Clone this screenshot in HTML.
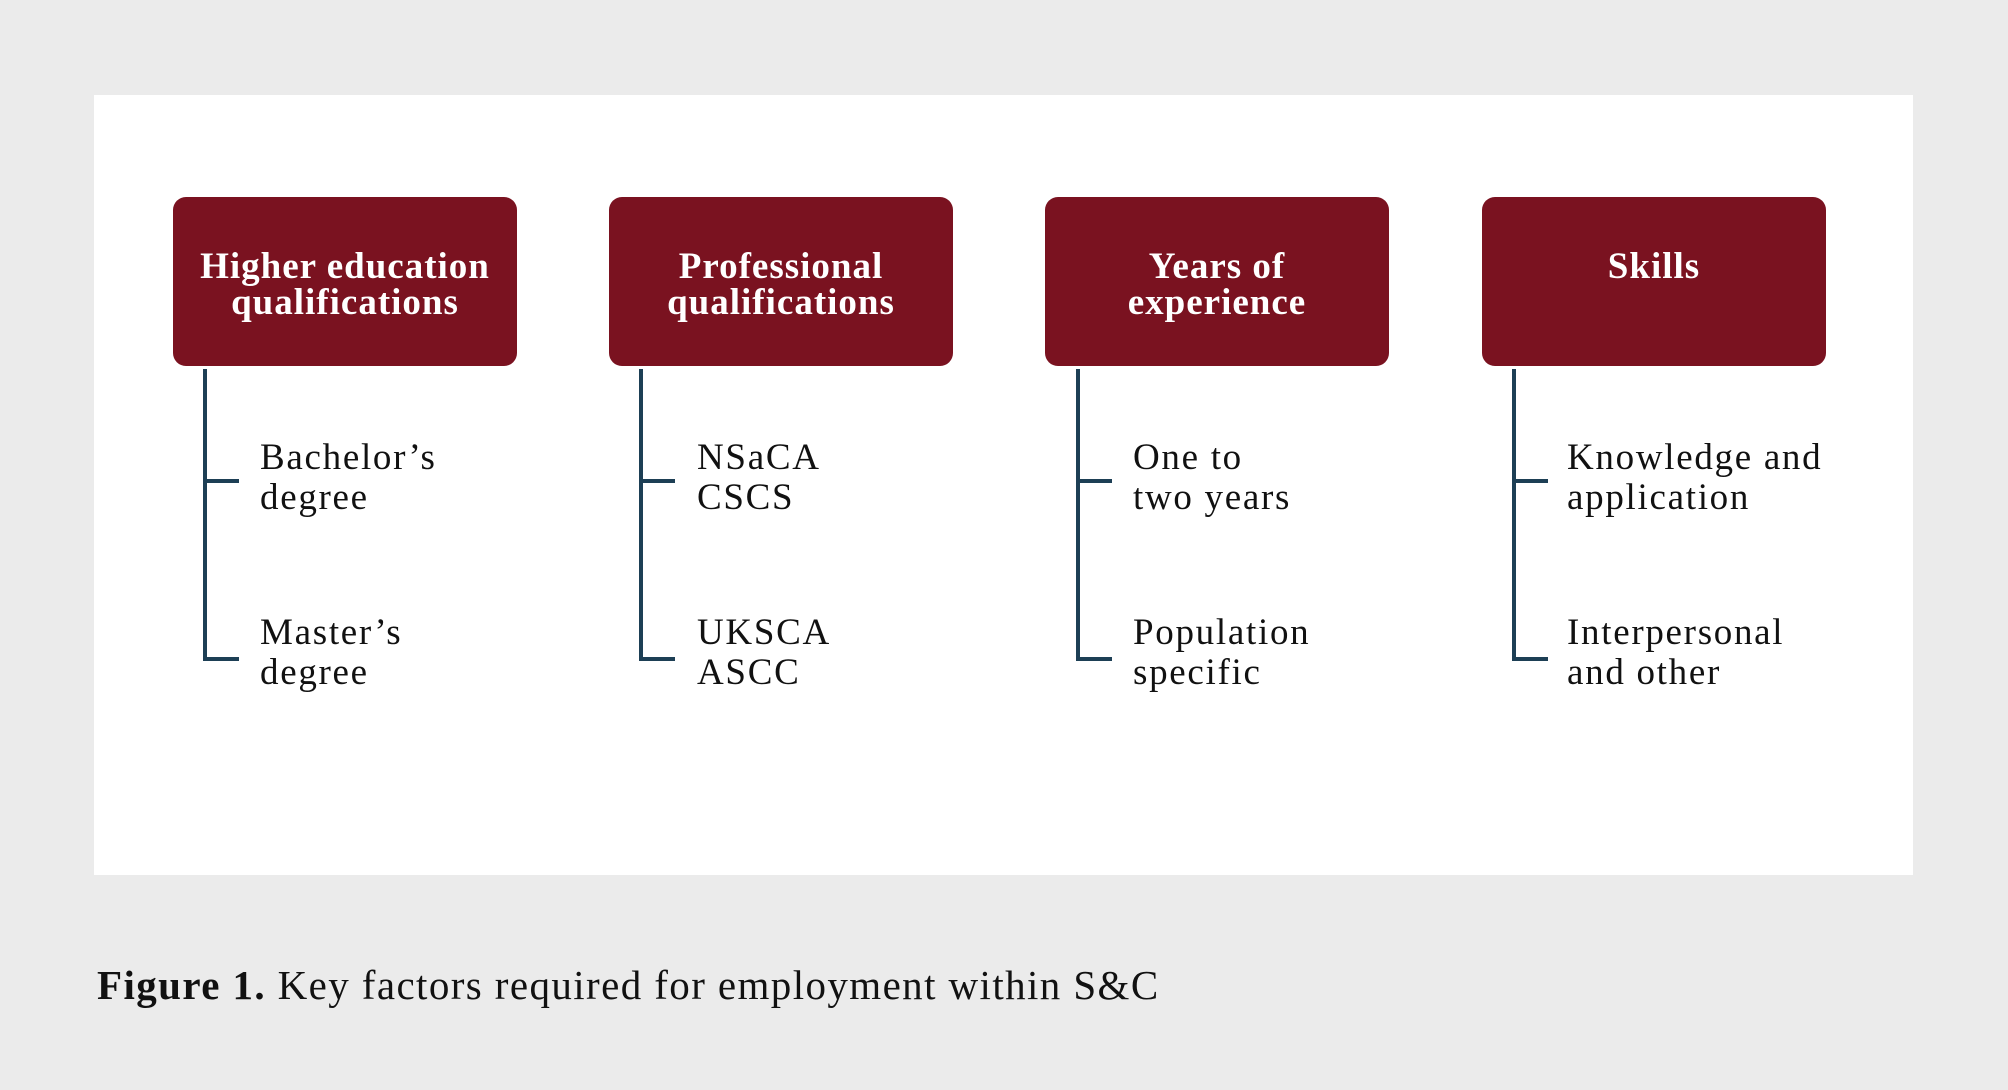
<!DOCTYPE html>
<html><head><meta charset="utf-8"><style>
body{margin:0;width:2008px;height:1090px;background:#ebebeb;position:relative;overflow:hidden;font-family:"Liberation Serif","DejaVu Serif",serif;}
.panel{position:absolute;left:94px;top:95px;width:1819px;height:780px;background:#fff;}
.box{position:absolute;top:197px;width:344px;height:169px;background:#7a1220;border-radius:13px;color:#fff;font-weight:bold;font-size:37px;letter-spacing:1px;line-height:36px;text-align:center;box-sizing:border-box;padding-top:52px;}
.v{position:absolute;top:369px;width:4px;height:292px;background:#1d3f55;}
.h{position:absolute;width:36px;height:4px;background:#1d3f55;}
.t{position:absolute;font-size:37px;letter-spacing:1.7px;line-height:40px;color:#111;}
.cap{position:absolute;left:97px;top:961px;font-size:41px;letter-spacing:1.4px;color:#111;}
</style></head><body>
<div class="panel"></div>
<div class="box" style="left:173px">Higher education<br>qualifications</div>
<div class="box" style="left:609px">Professional<br>qualifications</div>
<div class="box" style="left:1045px">Years of<br>experience</div>
<div class="box" style="left:1482px">Skills</div>

<div class="v" style="left:203px"></div><div class="h" style="left:203px;top:479px"></div><div class="h" style="left:203px;top:657px"></div>
<div class="t" style="left:260px;top:438px">Bachelor’s<br>degree</div>
<div class="t" style="left:260px;top:613px">Master’s<br>degree</div>

<div class="v" style="left:639px"></div><div class="h" style="left:639px;top:479px"></div><div class="h" style="left:639px;top:657px"></div>
<div class="t" style="left:697px;top:438px">NSaCA<br>CSCS</div>
<div class="t" style="left:697px;top:613px">UKSCA<br>ASCC</div>

<div class="v" style="left:1076px"></div><div class="h" style="left:1076px;top:479px"></div><div class="h" style="left:1076px;top:657px"></div>
<div class="t" style="left:1133px;top:438px">One to<br>two years</div>
<div class="t" style="left:1133px;top:613px">Population<br>specific</div>

<div class="v" style="left:1512px"></div><div class="h" style="left:1512px;top:479px"></div><div class="h" style="left:1512px;top:657px"></div>
<div class="t" style="left:1567px;top:438px">Knowledge and<br>application</div>
<div class="t" style="left:1567px;top:613px">Interpersonal<br>and other</div>

<div class="cap"><b>Figure 1.</b> Key factors required for employment within S&amp;C</div>
</body></html>
